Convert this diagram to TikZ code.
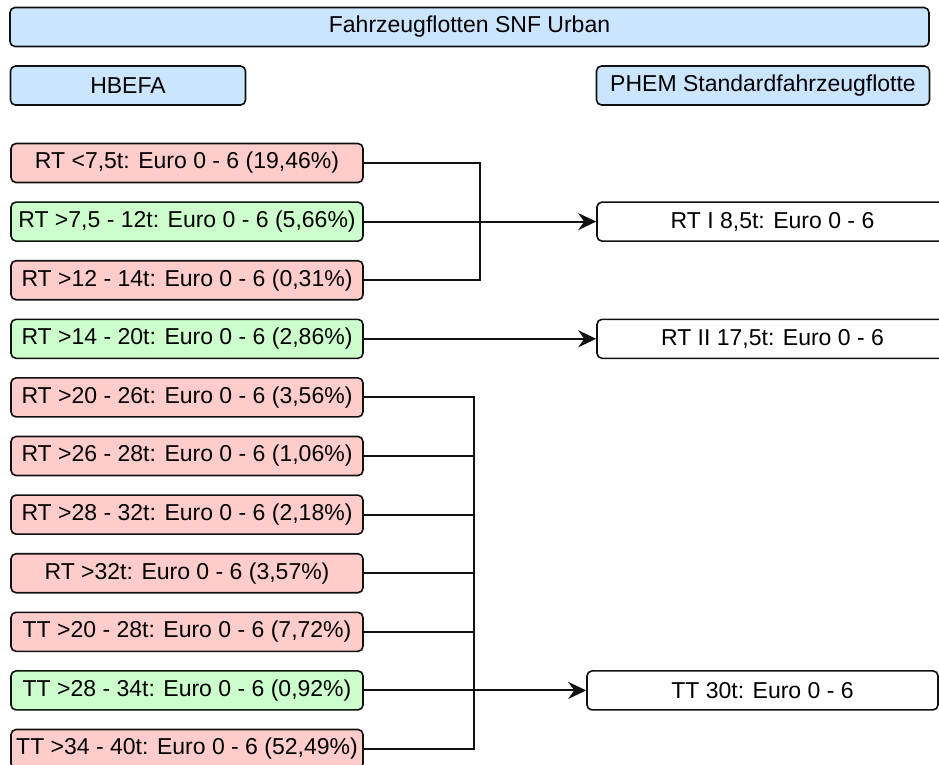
\documentclass[tikz,border=0pt]{standalone}
\usepackage{fontspec}
\setmainfont{Liberation Sans}
\usetikzlibrary{arrows.meta}
\definecolor{hdrblue}{HTML}{CCE5FF}
\definecolor{lowred}{HTML}{FFCCCC}
\definecolor{okgreen}{HTML}{CCFFCC}
\definecolor{inkline}{HTML}{111111}
\begin{document}
\begin{tikzpicture}[x=1pt,y=-1pt,
  box/.style={draw=inkline, line width=1.6pt, rounded corners=5pt,
    minimum height=39pt, inner sep=0pt, anchor=center,
    font=\fontsize{23}{27}\selectfont},
  hdr/.style={box, fill=hdrblue},
  fleet/.style={box, minimum width=352pt},
  redbox/.style={fleet, fill=lowred},
  greenbox/.style={fleet, fill=okgreen},
  target/.style={box, fill=white, minimum width=351pt},
  link/.style={draw=inkline, line width=2pt},
  arr/.style={link, -{Stealth[length=18pt,width=17pt,inset=6pt]}}
]
\useasboundingbox (0,0) rectangle (939,764);

% headers
\node[hdr, minimum width=919pt] (top) at (469.5,27) {Fahrzeugflotten SNF Urban};
\node[hdr, minimum width=235pt] (hbefa) at (128,85.5) {HBEFA};
\node[hdr, minimum width=333pt] (phem) at (763,85.5) {PHEM Standardfahrzeugflotte};

% HBEFA fleet classes
\node[redbox]   (l1)  at (187,163.0) {RT <7,5t: Euro 0 - 6 (19,46\%)};
\node[greenbox] (l2)  at (187,221.6) {RT >7,5 - 12t: Euro 0 - 6 (5,66\%)};
\node[redbox]   (l3)  at (187,280.2) {RT >12 - 14t: Euro 0 - 6 (0,31\%)};
\node[greenbox] (l4)  at (187,338.8) {RT >14 - 20t: Euro 0 - 6 (2,86\%)};
\node[redbox]   (l5)  at (187,397.4) {RT >20 - 26t: Euro 0 - 6 (3,56\%)};
\node[redbox]   (l6)  at (187,456.0) {RT >26 - 28t: Euro 0 - 6 (1,06\%)};
\node[redbox]   (l7)  at (187,514.6) {RT >28 - 32t: Euro 0 - 6 (2,18\%)};
\node[redbox]   (l8)  at (187,573.2) {RT >32t: Euro 0 - 6 (3,57\%)};
\node[redbox]   (l9)  at (187,631.8) {TT >20 - 28t: Euro 0 - 6 (7,72\%)};
\node[greenbox] (l10) at (187,690.4) {TT >28 - 34t: Euro 0 - 6 (0,92\%)};
\node[redbox]   (l11) at (187,749.0) {TT >34 - 40t: Euro 0 - 6 (52,49\%)};

% PHEM standard vehicles
\node[target] (rt1) at (772.5,221.6) {RT I 8,5t: Euro 0 - 6};
\node[target] (rt2) at (772.5,338.8) {RT II 17,5t: Euro 0 - 6};
\node[target] (tt)  at (762.5,690.4) {TT 30t: Euro 0 - 6};

% bus bars
\coordinate (j1) at (480,0);
\coordinate (j2) at (474,0);

% rigid trucks up to 14 t
\draw[link] (l1.east) -| (l3.east -| j1) -- (l3.east);
\draw[arr] (l2.east) -- (rt1.west);

% rigid trucks 14 - 20 t
\draw[arr] (l4.east) -- (rt2.west);

% heavy rigid trucks and tractor trailers
\draw[link] (l5.east) -| (l11.east -| j2) -- (l11.east);
\draw[link] (l6.east) -- (l6.east -| j2);
\draw[link] (l7.east) -- (l7.east -| j2);
\draw[link] (l8.east) -- (l8.east -| j2);
\draw[link] (l9.east) -- (l9.east -| j2);
\draw[arr] (l10.east) -- (tt.west);
\end{tikzpicture}
\end{document}
